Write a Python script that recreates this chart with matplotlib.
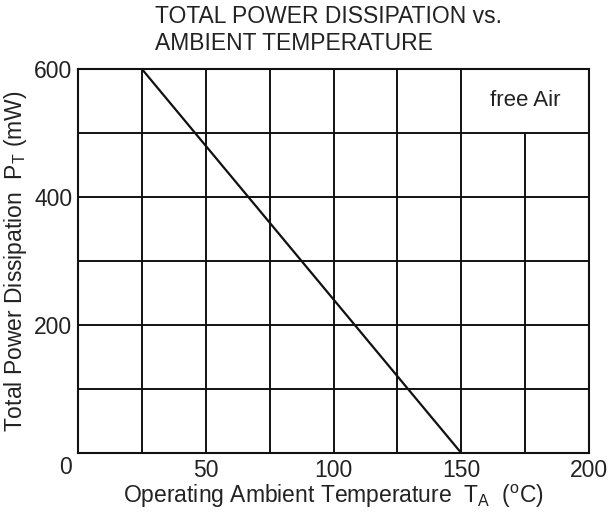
import matplotlib.pyplot as plt

plt.rcParams['font.family'] = ['Liberation Sans', 'DejaVu Sans']

# derating curve
temp_c = [25, 150]
power_mw = [600, 0]

x_ticks = [50, 100, 150, 200]
y_ticks = [200, 400, 600]
x_grid = [25, 50, 75, 100, 125, 150, 175]
y_grid = [100, 200, 300, 400, 500]

fig = plt.figure(figsize=(6.10, 5.14), dpi=100)
ax = fig.add_axes([78 / 610, 1 - 453 / 514, 511 / 610, 384 / 514])

ax.set_xlim(0, 200)
ax.set_ylim(0, 600)

# grid, leaving the "free Air" box open
for xv in x_grid:
    top = 500 if xv == 175 else 600
    ax.plot([xv, xv], [0, top], color='#111111', lw=1.4, solid_capstyle='butt')
for yv in y_grid:
    ax.plot([0, 200], [yv, yv], color='#111111', lw=1.4, solid_capstyle='butt')

ax.plot(temp_c, power_mw, color='#111111', lw=1.6)

for s in ax.spines.values():
    s.set_linewidth(1.5)
    s.set_color('#111111')

ax.set_xticks(x_ticks)
ax.set_yticks(y_ticks)
ax.tick_params(length=0, labelsize=16.5, pad=4, labelcolor='#222222')
ax.text(65 / 610, 1 - 467 / 514, '0', transform=fig.transFigure, fontsize=16.5,
        ha='center', va='center', color='#222222')

ax.text(175, 550, 'free Air', fontsize=16, ha='center', va='center', color='#222222')

ax.set_xlabel('Operating Ambient Temperature  T$_\\mathregular{A}$  ($^\\mathregular{o}$C)',
              fontsize=16.5, labelpad=1, color='#222222')
ax.set_ylabel('Total Power Dissipation  P$_\\mathregular{T}$ (mW)', fontsize=16.5,
              labelpad=4, color='#222222')

fig.text(155 / 610, 1 - 5 / 514, 'TOTAL POWER DISSIPATION vs.\nAMBIENT TEMPERATURE',
         fontsize=16.5, ha='left', va='top', linespacing=1.25, color='#222222')

fig.savefig('out.png', dpi=100)
